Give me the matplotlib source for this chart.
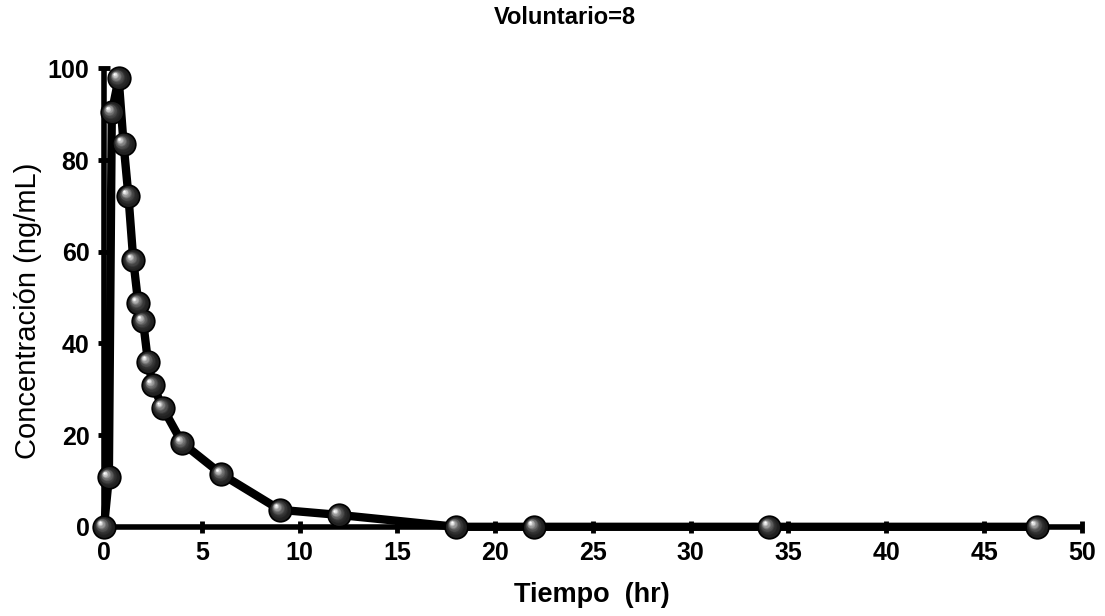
import numpy as np
import matplotlib
matplotlib.use("Agg")
import matplotlib.pyplot as plt
from matplotlib.transforms import offset_copy

plt.rcParams["font.family"] = ["Liberation Sans", "DejaVu Sans"]

# tiempo (hr) y concentración (ng/mL)
tiempo = [0, 0.25, 0.4, 0.75, 1.0, 1.25, 1.5, 1.75, 2.0, 2.25, 2.5, 3.0,
          4.0, 6.0, 9.0, 12.0, 18.0, 22.0, 34.0, 47.7]
conc = [0, 10.8, 90.4, 97.8, 83.6, 72.2, 58.1, 48.8, 44.8, 36.0, 30.9, 26.0,
        18.3, 11.5, 3.7, 2.6, 0, 0, 0, 0]
xticks = [0, 5, 10, 15, 20, 25, 30, 35, 40, 45, 50]
yticks = [0, 20, 40, 60, 80, 100]

fig = plt.figure(figsize=(11.05, 6.16), dpi=100)
ax = fig.add_axes([0.0941, 0.1448, 0.8849, 0.7442])

ax.plot(tiempo, conc, color="black", lw=6, clip_on=False, zorder=3,
        solid_joinstyle="round")

# esferas sombreadas: capas de círculos cada vez más claros hacia arriba-izquierda
msize = 17.5
ax.plot(tiempo, conc, "o", ms=msize, mfc="black", mec="none",
        clip_on=False, zorder=4)
nlay = 16
for i in range(nlay):
    f = i / (nlay - 1)
    size = msize * (0.86 - 0.78 * f)
    shift = msize * 0.18 * f
    g = 0.12 + 0.88 * f ** 2
    tr = offset_copy(ax.transData, fig=fig, x=-shift, y=shift, units="points")
    ax.plot(tiempo, conc, "o", ms=size, mfc=(g, g, g), mec="none",
            transform=tr, clip_on=False, zorder=5 + i)

ax.set_xlim(0, 50)
ax.set_ylim(0, 100)
ax.set_xticks(xticks)
ax.set_yticks(yticks)

for s in ["top", "right"]:
    ax.spines[s].set_visible(False)
for s in ["left", "bottom"]:
    ax.spines[s].set_linewidth(4)
    ax.spines[s].set_capstyle("butt")

ax.tick_params(direction="inout", length=9, width=3.5, labelsize=18, pad=6)
for lab in ax.get_xticklabels() + ax.get_yticklabels():
    lab.set_fontweight("bold")

fig.text(0.536, 0.034, "Tiempo  (hr)", fontsize=19.5, fontweight="bold",
         ha="center", va="center")
fig.text(0.0253, 0.495, "Concentración (ng/mL)", fontsize=21, rotation=90,
         ha="center", va="center")
fig.text(0.511, 0.971, "Voluntario=8", fontsize=17, fontweight="bold",
         ha="center", va="center")

fig.savefig("out.png", dpi=100)
